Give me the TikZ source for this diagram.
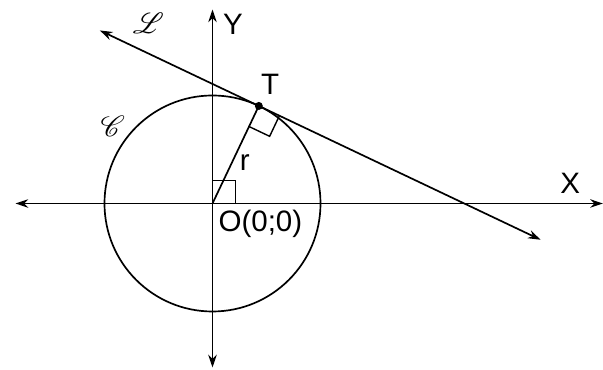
\documentclass[tikz,border=0pt]{standalone}
\usepackage{fontspec}
\setmainfont{Liberation Sans}
\usepackage{mathrsfs}
\usetikzlibrary{arrows.meta,calc}

\begin{document}
\begin{tikzpicture}[>={Stealth[length=9pt,width=6pt]},line width=1.2pt,
    lbl/.style={font=\fontsize{21}{25}\selectfont,inner sep=0pt},
    scr/.style={font=\fontsize{22}{25}\selectfont,inner sep=0pt}]
\useasboundingbox (-5.3125,-4.1625) rectangle (9.7625,5.0875);

\coordinate (O) at (0,0);
\coordinate (T) at (64.6:2.7);
\coordinate (Xl) at (-4.925,0);
\coordinate (Xr) at (9.76,0);
\coordinate (Yb) at (0,-4.1);
\coordinate (Yt) at (0,4.85);
\coordinate (La) at ($(T)+(154.6:4.4)$);
\coordinate (Lb) at ($(T)+(-25.4:7.8)$);

% axes
\draw[<->] (Xl)--(Xr);
\draw[<->] (Yb)--(Yt);

% circle and tangent
\draw (O) circle (2.7);
\draw[<->] (La)--(Lb);
\draw (O)--(T);

% right angles
\draw[line width=1pt] (0,0.57)--(0.57,0.57)--(0.57,0);
\draw[line width=1pt] ($(T)+(-25.4:0.57)$)--++(244.6:0.57)--++(154.6:0.57);
\fill (T) circle (0.1);

\node[lbl] (tX) at (8.94,0.5) {X};
\node[lbl] (tY) at (0.51,4.49) {Y};
\node[lbl] (tT) at (1.44,2.98) {T};
\node[lbl] (tr) at (0.81,1.03) {r};
\node[lbl,anchor=west] (tO) at (0.13,-0.52) {O(0;0)};
\node[scr] (tL) at (-1.6,4.5) {$\mathscr{L}$};
\node[scr] (tC) at (-2.49,1.93) {$\mathscr{C}$};
\end{tikzpicture}
\end{document}
